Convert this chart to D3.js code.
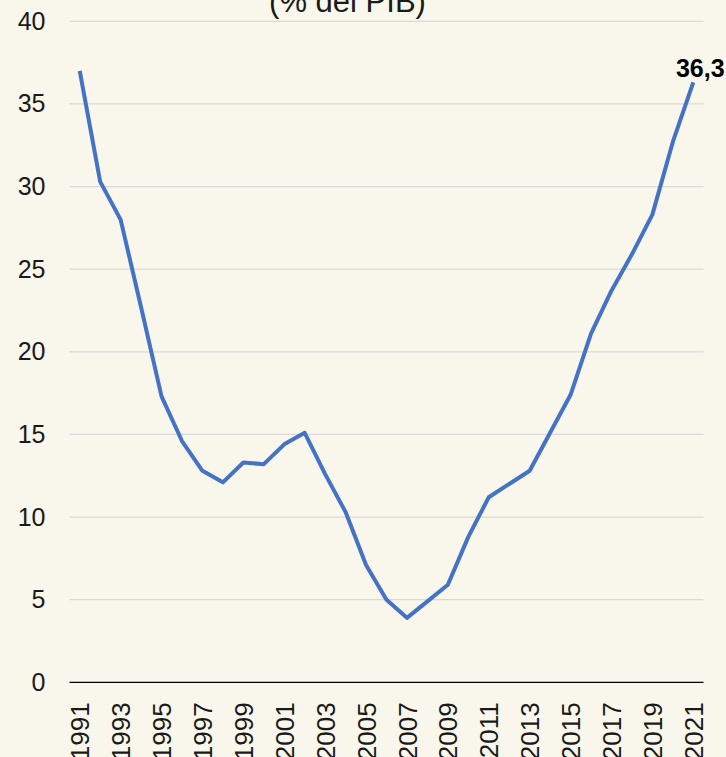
<!DOCTYPE html>
<html>
<head>
<meta charset="utf-8">
<script src="https://cdn.jsdelivr.net/npm/d3@7"></script>
<style>
  body { margin: 0; background: #f9f7eb; }
  svg { display: block; font-family: "Liberation Sans", Arial, sans-serif; }
</style>
</head>
<body>
<svg id="chart"></svg>
<script>
//data (% del PIB)
const years = d3.range(1991, 2022);
const values = [37.0, 30.3, 28.0, 22.7, 17.3, 14.6, 12.8, 12.1, 13.3, 13.2,
                14.4, 15.1, 12.6, 10.3, 7.1, 5.0, 3.9, 4.9, 5.9, 8.8,
                11.2, 12.0, 12.8, 15.1, 17.4, 21.1, 23.7, 25.9, 28.3, 32.7, 36.3];
const yTicks = [0, 5, 10, 15, 20, 25, 30, 35, 40];
const xTickYears = years.filter(y => (y - 1991) % 2 === 0);
const lastLabel = '36,3';
const title = '(% del PIB)';

function buildChart() {
    const width = 726;
    const height = 757;
    const svg = d3.select('#chart').attr('width', width).attr('height', height);

    const left = 69.5, right = 703.5, top = 21.3, bottom = 682.3;

    //category axis, points in the middle of each slot
    const x = d3.scalePoint().domain(years).range([left, right]).padding(0.5);
    const y = d3.scaleLinear().domain([0, 40]).range([bottom, top]);

    //title, mostly cut off at the top (as in the source)
    svg.append('text')
        .attr('x', 347.5)
        .attr('y', 12)
        .attr('text-anchor', 'middle')
        .attr('font-size', 31)
        .attr('fill', '#1a1a1a')
        .text(title);

    //gridlines
    svg.append('g')
        .selectAll('line')
        .data(yTicks.filter(d => d > 0))
        .enter()
        .append('line')
        .attr('x1', left).attr('x2', right)
        .attr('y1', d => y(d)).attr('y2', d => y(d))
        .attr('stroke', '#d9d9d9')
        .attr('stroke-width', 1.3);

    //y axis labels
    const yAxis = d3.axisLeft(y).tickValues(yTicks).tickSize(0).tickPadding(24);
    svg.append('g')
        .attr('transform', `translate(${left},0)`)
        .call(yAxis)
        .call(g => g.select('.domain').remove())
        .selectAll('text')
        .attr('font-size', 25)
        .attr('font-family', '"Liberation Sans", Arial, sans-serif')
        .attr('fill', '#1a1a1a');

    //zero line
    svg.append('line')
        .attr('x1', left).attr('x2', right)
        .attr('y1', y(0)).attr('y2', y(0))
        .attr('stroke', '#000')
        .attr('stroke-width', 1.2);

    //x axis labels, rotated
    const xAxis = d3.axisBottom(x).tickValues(xTickYears).tickSize(0).tickPadding(0);
    svg.append('g')
        .attr('transform', `translate(0,${y(0)})`)
        .call(xAxis)
        .call(g => g.select('.domain').remove())
        .selectAll('text')
        .attr('font-size', 26)
        .attr('font-family', '"Liberation Sans", Arial, sans-serif')
        .attr('fill', '#1a1a1a')
        .attr('text-anchor', 'end')
        .attr('transform', 'translate(0,20) rotate(-90)')
        .attr('x', 0)
        .attr('y', 0)
        .attr('dy', '0.35em');

    //the line
    const line = d3.line()
        .x((d, i) => x(years[i]))
        .y(d => y(d));

    svg.append('path')
        .datum(values)
        .attr('d', line)
        .attr('fill', 'none')
        .attr('stroke', '#4472c4')
        .attr('stroke-width', 4)
        .attr('stroke-linejoin', 'round');

    //last value label
    svg.append('text')
        .attr('x', x(years[years.length - 1]) + 7)
        .attr('y', y(values[values.length - 1]) - 5)
        .attr('text-anchor', 'middle')
        .attr('font-size', 25)
        .attr('font-weight', 'bold')
        .attr('fill', '#000')
        .text(lastLabel);
}

buildChart();
</script>
</body>
</html>
